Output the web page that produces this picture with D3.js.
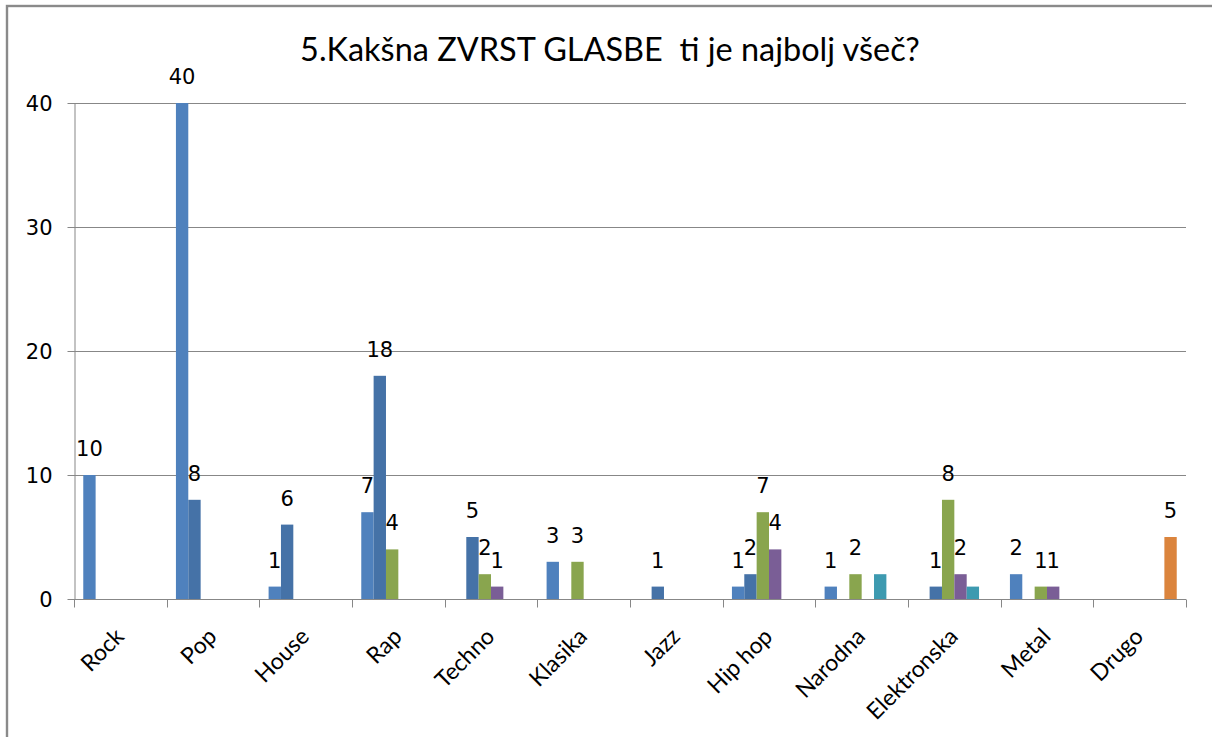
<!DOCTYPE html>
<html>
<head>
<meta charset="utf-8">
<script src="https://cdn.jsdelivr.net/npm/d3@7"></script>
<style>
  html, body { margin: 0; padding: 0; background: #fff; }
  svg { display: block; }
  text { fill: #000; }
</style>
</head>
<body>
<svg id="chart" width="1212" height="737"></svg>
<script>
// ---- data ----
const title = "5.Kakšna ZVRST GLASBE\u00a0 ti je najbolj všeč?";
const categories = ["Rock", "Pop", "House", "Rap", "Techno", "Klasika", "Jazz", "Hip hop", "Narodna", "Elektronska", "Metal", "Drugo"];
const seriesNames = ["Serija 1", "Serija 2", "Serija 3", "Serija 4", "Serija 5", "Serija 6"];
const series1 = [10, 40, 1, 7, null, 3, null, 1, 1, null, 2, null];
const series2 = [null, 8, 6, 18, 5, null, 1, 2, null, 1, null, null];
const series3 = [null, null, null, 4, 2, 3, null, 7, 2, 8, 1, null];
const series4 = [null, null, null, null, 1, null, null, 4, null, 2, 1, null];
const series5 = [null, null, null, null, null, null, null, null, 2, 1, null, null];
const series6 = [null, null, null, null, null, null, null, null, null, null, null, 5];
const showLabels = [true, true, true, true, false, true];
const yTicks = [0, 10, 20, 30, 40];
const colors = ["#4F81BD", "#4572A7", "#89A54E", "#7A5E96", "#3D9AB0", "#DB843D"];

const allSeries = [series1, series2, series3, series4, series5, series6];

// ---- layout ----
const svg = d3.select("#chart");
const pLeft = 74, pRight = 1186, pTop = 103, pBottom = 599;
const numFont = "'DejaVu Sans', sans-serif";
const txtFont = "Lato, 'DejaVu Sans', sans-serif";

// frame
svg.append("rect").attr("x", 7).attr("y", 6).attr("width", 1230).attr("height", 760)
  .attr("fill", "none").attr("stroke", "#8a8a8a").attr("stroke-width", 2.4);

const x = d3.scaleBand().domain(categories).range([pLeft, pRight]).paddingInner(0).paddingOuter(0);
const xs = d3.scaleBand().domain(d3.range(allSeries.length)).range([0, x.bandwidth()])
  .paddingInner(0).paddingOuter(0.75);
const y = d3.scaleLinear().domain([0, 40]).range([pBottom, pTop]);

// gridlines
svg.append("g").selectAll("line").data(yTicks.filter(d => d > 0)).join("line")
  .attr("x1", pLeft).attr("x2", pRight)
  .attr("y1", d => Math.round(y(d)) + 0.5).attr("y2", d => Math.round(y(d)) + 0.5)
  .attr("stroke", "#878787").attr("stroke-width", 1);

// y axis
const yAxis = svg.append("g").attr("transform", `translate(${pLeft + 0.5},0)`)
  .call(d3.axisLeft(y).tickValues(yTicks).tickSize(7).tickPadding(15).tickSizeOuter(0));
yAxis.select(".domain").attr("stroke", "#878787");
yAxis.selectAll(".tick line").attr("stroke", "#878787");
yAxis.selectAll(".tick text").style("font-size", "21px").style("font-family", numFont)
  .attr("fill", "#000").attr("dy", "0.36em");

// bars
const flat = [];
allSeries.forEach((s, si) => s.forEach((v, ci) => {
  if (v != null) flat.push({ si, cat: categories[ci], v });
}));

svg.append("g").selectAll("rect").data(flat).join("rect")
  .attr("x", d => x(d.cat) + xs(d.si))
  .attr("width", xs.bandwidth())
  .attr("y", d => y(d.v))
  .attr("height", d => y(0) - y(d.v))
  .attr("fill", d => colors[d.si]);

// x axis
const xAxisG = svg.append("g").attr("transform", `translate(0,${pBottom + 0.5})`);
xAxisG.append("line").attr("x1", pLeft).attr("x2", pRight).attr("stroke", "#878787");
const boundaries = categories.map(c => x(c)).concat([pRight]);
xAxisG.selectAll("line.t").data(boundaries).join("line").attr("class", "t")
  .attr("x1", d => Math.round(d) + 0.5).attr("x2", d => Math.round(d) + 0.5)
  .attr("y1", 0).attr("y2", 8).attr("stroke", "#878787");

// category labels
svg.append("g").selectAll("text").data(categories).join("text")
  .attr("transform", d => `translate(${x(d) + x.bandwidth() / 2 + 5},${pBottom + 39}) rotate(-45)`)
  .attr("text-anchor", "end")
  .style("font-family", txtFont)
  .style("font-size", "23px")
  .text(d => d);

// data labels
svg.append("g").selectAll("text").data(flat.filter(d => showLabels[d.si])).join("text")
  .attr("x", d => x(d.cat) + xs(d.si) + xs.bandwidth() / 2)
  .attr("y", d => y(d.v) - 19)
  .attr("text-anchor", "middle")
  .style("font-family", numFont)
  .style("font-size", "21px")
  .text(d => d.v);

// title
const t = svg.append("text").attr("x", 610).attr("y", 61).attr("text-anchor", "middle")
  .style("font-family", txtFont).style("font-size", "28px").text(title);
const w = t.node().getComputedTextLength();
t.style("font-size", (28 * 620 / w) + "px");
</script>
</body>
</html>
